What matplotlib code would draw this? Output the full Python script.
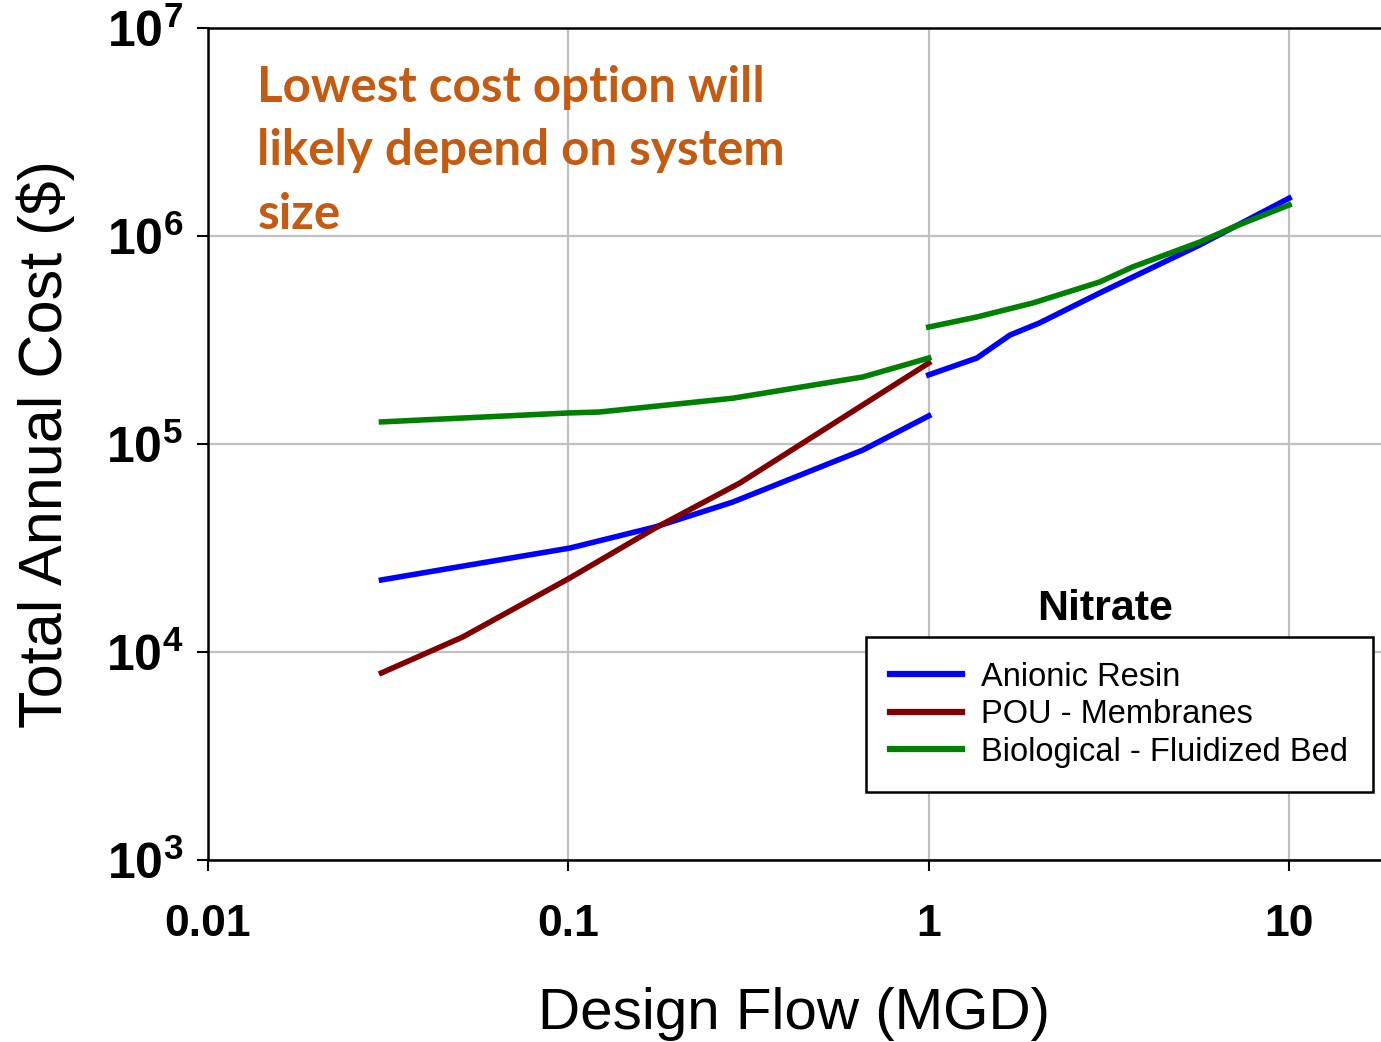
import numpy as np
import matplotlib.pyplot as plt
from matplotlib.ticker import FixedLocator, FixedFormatter, NullLocator

plt.rcParams['font.family'] = ['Liberation Sans', 'DejaVu Sans']
plt.rcParams['mathtext.fontset'] = 'custom'
plt.rcParams['mathtext.rm'] = 'Liberation Sans:bold'
plt.rcParams['mathtext.bf'] = 'Liberation Sans:bold'

# datos (dos tramos: flujo < 1 MGD y flujo >= 1 MGD)
resin_x1 = [0.0303, 0.0472, 0.101, 0.174, 0.286, 0.656, 1.0]
resin_y1 = [22200, 25300, 31600, 39900, 52600, 93500, 136500]
resin_x2 = [1.0, 1.36, 1.68, 2.03, 2.98, 5.65, 10.0]
resin_y2 = [215000, 259000, 334000, 382000, 532000, 906000, 1520000]

pou_x = [0.0303, 0.0509, 0.101, 0.174, 0.299, 1.0]
pou_y = [7930, 11800, 22700, 39400, 64900, 245000]

bio_x1 = [0.0303, 0.1, 0.122, 0.286, 0.656, 1.0]
bio_y1 = [127700, 141000, 142500, 166000, 210000, 259000]
bio_x2 = [1.0, 1.36, 1.95, 2.98, 3.68, 5.65, 6.97, 10.0]
bio_y2 = [365000, 408000, 477000, 601000, 710000, 935000, 1100000, 1410000]

labels = ['Anionic Resin', 'POU - Membranes', 'Biological - Fluidized Bed']
colors = ['#0000FF', '#800000', '#008000']

xticks = [0.01, 0.1, 1, 10]
xtick_labels = ['0.01', '0.1', '1', '10']
yticks = [1e3, 1e4, 1e5, 1e6, 1e7]
ytick_labels = [r'$10^{3}$', r'$10^{4}$', r'$10^{5}$', r'$10^{6}$', r'$10^{7}$']

fig = plt.figure(figsize=(13.81, 10.42), dpi=100)
ax = fig.add_axes([0.1506, 0.1747, 0.8494, 0.7984])

lw = 4.0
ax.plot(resin_x1, resin_y1, color=colors[0], lw=lw, label=labels[0])
ax.plot(resin_x2, resin_y2, color=colors[0], lw=lw)
ax.plot(pou_x, pou_y, color=colors[1], lw=lw, label=labels[1])
ax.plot(bio_x1, bio_y1, color=colors[2], lw=lw, label=labels[2])
ax.plot(bio_x2, bio_y2, color=colors[2], lw=lw)

ax.set_xscale('log')
ax.set_yscale('log')
ax.set_xlim(0.01, 10 ** 1.255)
ax.set_ylim(1e3, 1e7)

ax.xaxis.set_major_locator(FixedLocator(xticks))
ax.xaxis.set_major_formatter(FixedFormatter(xtick_labels))
ax.yaxis.set_major_locator(FixedLocator(yticks))
ax.yaxis.set_major_formatter(FixedFormatter(ytick_labels))
ax.xaxis.set_minor_locator(NullLocator())
ax.yaxis.set_minor_locator(NullLocator())

ax.tick_params(axis='both', direction='out', length=8, width=1.5)
ax.tick_params(axis='x', pad=24, labelsize=32)
ax.tick_params(axis='y', pad=10, labelsize=36)
for t in ax.get_xticklabels():
    t.set_fontweight('bold')

ax.grid(True, which='major', color='#C0C0C0', lw=1.6)
ax.set_axisbelow(True)
for s in ['left', 'bottom', 'top']:
    ax.spines[s].set_linewidth(1.8)
ax.spines['right'].set_visible(False)

ax.set_xlabel('Design Flow (MGD)', fontsize=42, labelpad=30)
ax.set_ylabel('Total Annual Cost ($)', fontsize=44, labelpad=22)

ax.text(0.042, 0.956,
        'Lowest cost option will\nlikely depend on system\nsize',
        transform=ax.transAxes, ha='left', va='top', fontsize=35.5,
        fontweight='bold', color='#C55A11', family=['Lato', 'DejaVu Sans'],
        linespacing=1.5)

ax.text(0.765, 0.302, 'Nitrate', transform=ax.transAxes, ha='center',
        va='center', fontsize=31, fontweight='bold')

leg = ax.legend(loc='upper left', bbox_to_anchor=(0.5606, 0.2677),
                fontsize=23.5, frameon=True, fancybox=False, handlelength=2.2,
                handletextpad=0.6, labelspacing=0.2, borderpad=0.75,
                borderaxespad=0)
leg.get_frame().set_edgecolor('black')
leg.get_frame().set_linewidth(1.8)
leg.get_frame().set_alpha(1)
for line in leg.get_lines():
    line.set_linewidth(4.5)

fig.savefig('out.png', dpi=100)
